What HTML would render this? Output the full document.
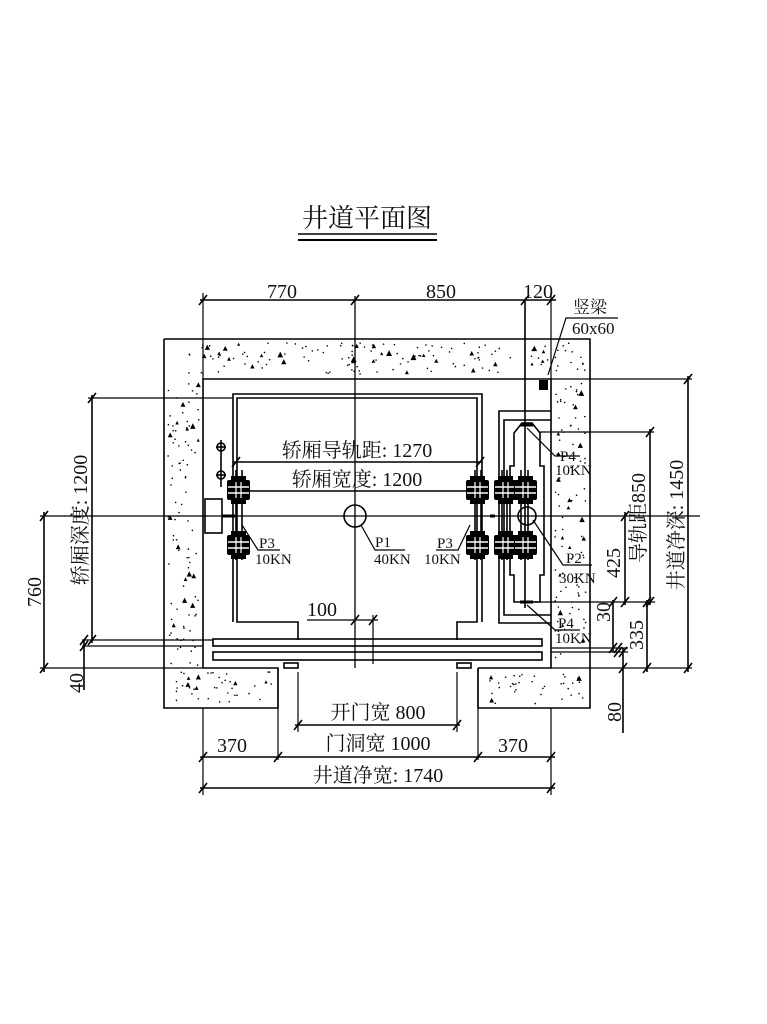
<!DOCTYPE html>
<html><head><meta charset="utf-8"><style>
html,body{margin:0;padding:0;background:#fff;}
svg{display:block;}
text{font-family:"Liberation Serif","Noto Serif CJK SC",serif;fill:#111;}
</style></head><body>
<svg id="s" width="767" height="1024" viewBox="0 0 767 1024" xmlns="http://www.w3.org/2000/svg">
<g stroke="#000" stroke-width="1.6" fill="none">
<line x1="298" y1="234" x2="437" y2="234"/><line x1="298" y1="240" x2="437" y2="240" stroke-width="2"/>
<polyline points="164,339 590,339 590,708 478,708 478,668"/>
<polyline points="164,339 164,708 278,708 278,668 203,668 203,379 551,379 551,668 478,668"/>
<line x1="551" y1="668" x2="590" y2="668" stroke-width="1"/>
<line x1="355" y1="296" x2="355" y2="668" stroke-width="1.3"/>
<line x1="40" y1="516" x2="700" y2="516" stroke-width="1.3"/>
<polyline points="233,622 233,394 482,394 482,622"/>
<polyline points="298,640 298,622 237,622 237,398 477,398 477,622 457,622 457,640"/>
<rect x="213" y="639" width="329" height="7"/>
<rect x="213" y="652" width="329" height="8"/>
<rect x="284" y="663" width="14" height="5"/><rect x="457" y="663" width="14" height="5"/>
<line x1="278" y1="668" x2="278" y2="760" stroke-width="1.2"/>
<line x1="478" y1="668" x2="478" y2="760" stroke-width="1.2"/>
<line x1="298" y1="672" x2="298" y2="732" stroke-width="1.2"/>
<line x1="457" y1="672" x2="457" y2="732" stroke-width="1.2"/>
<line x1="203" y1="708" x2="203" y2="795" stroke-width="1.2"/>
<line x1="551" y1="708" x2="551" y2="795" stroke-width="1.2"/>
<polyline points="551,411 499,411 499,623 551,623"/>
<polyline points="551,420 504,420 504,615 551,615"/>
<polyline points="527,423 522,423 514,433 514,466 510,466 510,575 514,575 514,602 527,602"/>
<polyline points="527,423 532,423 540,433 540,466 544,466 544,575 540,575 540,602 527,602"/>
<line x1="525" y1="300" x2="525" y2="608"/>
<line x1="520" y1="425" x2="533" y2="425" stroke-width="3"/>
<line x1="520" y1="602" x2="533" y2="602" stroke-width="3"/>
<rect x="205" y="499" width="17" height="34"/>
<line x1="222" y1="516" x2="235" y2="516" stroke-width="3"/>
<line x1="221" y1="440" x2="221" y2="487"/>
<circle cx="221" cy="447" r="4"/><circle cx="221" cy="475" r="4"/>
<line x1="216" y1="447" x2="226" y2="447"/><line x1="216" y1="475" x2="226" y2="475"/>
<line x1="490" y1="516" x2="495" y2="516" stroke-width="3"/>
<line x1="236" y1="470" x2="236" y2="560"/><line x1="242" y1="470" x2="242" y2="560"/>
<line x1="475" y1="470" x2="475" y2="560"/><line x1="481" y1="470" x2="481" y2="560"/>
<line x1="502" y1="470" x2="502" y2="560"/><line x1="507" y1="470" x2="507" y2="560"/>
<line x1="521" y1="470" x2="521" y2="560"/><line x1="528" y1="470" x2="528" y2="560"/>
<circle cx="527" cy="516" r="9"/>
<circle cx="355" cy="516" r="11"/>
<line x1="200" y1="300" x2="556" y2="300"/>
<line x1="203" y1="293" x2="203" y2="379" stroke-width="1.2"/>
<line x1="551" y1="293" x2="551" y2="379" stroke-width="1.2"/>
<line x1="233" y1="462" x2="482" y2="462" stroke-width="1.4"/>
<line x1="237" y1="491" x2="477" y2="491" stroke-width="1.4"/>
<line x1="551" y1="379" x2="692" y2="379" stroke-width="1.2"/>
<line x1="688" y1="376" x2="688" y2="672"/>
<line x1="540" y1="432" x2="654" y2="432" stroke-width="1.2"/>
<line x1="650" y1="429" x2="650" y2="605"/>
<line x1="625" y1="512" x2="625" y2="605"/>
<line x1="530" y1="602" x2="655" y2="602" stroke-width="1.2"/>
<line x1="613" y1="600" x2="613" y2="652"/>
<line x1="647" y1="600" x2="647" y2="672"/>
<line x1="551" y1="648" x2="628" y2="648" stroke-width="1.2"/>
<line x1="551" y1="652" x2="628" y2="652" stroke-width="1.2"/>
<line x1="623" y1="648" x2="623" y2="733"/>
<line x1="551" y1="668" x2="692" y2="668" stroke-width="1.2"/>
<line x1="88" y1="398" x2="233" y2="398" stroke-width="1.2"/>
<line x1="92" y1="395" x2="92" y2="643"/>
<line x1="82" y1="640" x2="213" y2="640" stroke-width="1.2"/>
<line x1="44" y1="512" x2="44" y2="672"/>
<line x1="40" y1="668" x2="203" y2="668" stroke-width="1.2"/>
<line x1="82" y1="646" x2="203" y2="646" stroke-width="1.2"/>
<line x1="84" y1="640" x2="84" y2="690"/>
<line x1="295" y1="725" x2="460" y2="725"/>
<line x1="200" y1="757" x2="555" y2="757"/>
<line x1="200" y1="788" x2="555" y2="788"/>
<line x1="307" y1="620" x2="378" y2="620" stroke-width="1.2"/>
<line x1="373" y1="615" x2="373" y2="664" stroke-width="1.2"/>
<polyline points="361,525 375,550 405,550" stroke-width="1.2"/>
<polyline points="242,525 258,550 280,550" stroke-width="1.2"/>
<polyline points="470,525 458,550 436,550" stroke-width="1.2"/>
<polyline points="533,520 563,565 592,565" stroke-width="1.2"/>
<polyline points="527,428 555,456 580,456" stroke-width="1.2"/>
<polyline points="527,605 555,630 580,630" stroke-width="1.2"/>
<polyline points="548,375 566,318 618,318" stroke-width="1.2"/>
</g>
<rect x="539" y="380" width="9" height="10" fill="#000"/>
<g id="shoes" fill="#000"></g>
<g id="dots" fill="#000"></g>
<g id="ticks" stroke="#000" stroke-width="1.6"></g>
<text x="367" y="227" font-size="26" text-anchor="middle">井道平面图</text>
<g font-size="20">
<text x="282" y="298" text-anchor="middle">770</text>
<text x="441" y="298" text-anchor="middle">850</text>
<text x="538" y="298" text-anchor="middle">120</text>
<text x="573" y="313" font-size="17">竖梁</text>
<text x="572" y="334" font-size="17">60x60</text>
<text x="357" y="457" text-anchor="middle">轿厢导轨距: 1270</text>
<text x="357" y="486" text-anchor="middle">轿厢宽度: 1200</text>
<text x="322" y="616" text-anchor="middle">100</text>
<text x="378" y="719" text-anchor="middle">开门宽 800</text>
<text x="378" y="750" text-anchor="middle">门洞宽 1000</text>
<text x="232" y="752" text-anchor="middle">370</text>
<text x="513" y="752" text-anchor="middle">370</text>
<text x="378" y="782" text-anchor="middle">井道净宽: 1740</text>
</g>
<g font-size="15">
<text x="375" y="547">P1</text><text x="374" y="564">40KN</text>
<text x="259" y="548">P3</text><text x="255" y="564">10KN</text>
<text x="437" y="548">P3</text><text x="424" y="564">10KN</text>
<text x="560" y="461">P4</text><text x="555" y="475">10KN</text>
<text x="566" y="563">P2</text><text x="559" y="583">30KN</text>
<text x="558" y="628">P4</text><text x="555" y="643">10KN</text>
</g>
<g font-size="20">
<text transform="translate(87,520) rotate(-90)" text-anchor="middle">轿厢深度: 1200</text>
<text transform="translate(41,592) rotate(-90)" text-anchor="middle">760</text>
<text transform="translate(83,683) rotate(-90)" text-anchor="middle">40</text>
<text transform="translate(683,525) rotate(-90)" text-anchor="middle">井道净深: 1450</text>
<text transform="translate(645,518) rotate(-90)" text-anchor="middle">导轨距850</text>
<text transform="translate(620,563) rotate(-90)" text-anchor="middle">425</text>
<text transform="translate(610,612) rotate(-90)" text-anchor="middle">30</text>
<text transform="translate(643,635) rotate(-90)" text-anchor="middle">335</text>
<text transform="translate(621,712) rotate(-90)" text-anchor="middle">80</text>
</g>
</svg>
<script>
var NS="http://www.w3.org/2000/svg";
function el(p,t,a){var e=document.createElementNS(NS,t);for(var k in a)e.setAttribute(k,a[k]);p.appendChild(e);return e;}
var seed=7;function r(){seed=(seed*9301+49297)%233280;return seed/233280;}
var dots=document.getElementById('dots');
var regs=[[165,340,425,38],[165,380,37,327],[552,380,37,327],[204,669,73,38],[479,669,71,38]];
regs.forEach(function(g){var n=Math.floor(g[2]*g[3]/110);for(var i=0;i<n;i++){var x=g[0]+3+r()*(g[2]-6),y=g[1]+3+r()*(g[3]-6);
 if(r()<0.14){var s=1.5+r()*1.5;el(dots,'polygon',{points:(x)+','+(y-s)+' '+(x-s)+','+(y+s)+' '+(x+s)+','+(y+s)});}
 else el(dots,'circle',{cx:x,cy:y,r:0.8});}});
var sh=document.getElementById('shoes');
[[227,490],[227,545],[466,490],[466,545],[494,490],[494,545],[514,490],[514,545]].forEach(function(p){
 el(sh,'rect',{x:p[0],y:p[1]-10,width:23,height:20,rx:2});
 el(sh,'rect',{x:p[0]+4,y:p[1]-14,width:15,height:28});
 el(sh,'line',{x1:p[0]+1,y1:p[1]-3,x2:p[0]+22,y2:p[1]-3,stroke:'#fff','stroke-width':1.5});
 el(sh,'line',{x1:p[0]+1,y1:p[1]+3,x2:p[0]+22,y2:p[1]+3,stroke:'#fff','stroke-width':1.5});
 el(sh,'line',{x1:p[0]+9,y1:p[1]-8,x2:p[0]+9,y2:p[1]+8,stroke:'#fff','stroke-width':1.2});
 el(sh,'line',{x1:p[0]+14,y1:p[1]-8,x2:p[0]+14,y2:p[1]+8,stroke:'#fff','stroke-width':1.2});
});
var tk=document.getElementById('ticks');
function th(x,y){el(tk,'line',{x1:x-4,y1:y+5,x2:x+4,y2:y-5});}
[[203,300],[355,300],[525,300],[551,300],[298,725],[457,725],[203,757],[278,757],[478,757],[551,757],[203,788],[551,788],[355,620],[373,620],
 [688,379],[688,668],[650,432],[650,602],[625,516],[625,602],[613,602],[613,648],[647,602],[647,668],[623,652],[623,668],
 [92,398],[92,640],[44,516],[44,668],[84,640],[84,646],[236,462],[480,462],[618,648],[618,652]].forEach(function(p){th(p[0],p[1]);});
</script>
</body></html>
